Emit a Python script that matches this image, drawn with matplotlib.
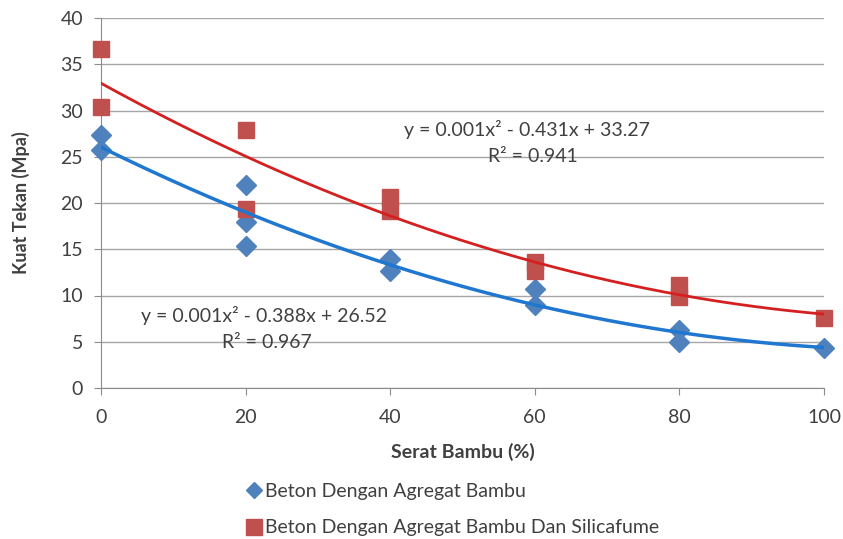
import numpy as np
import matplotlib
matplotlib.use("Agg")
import matplotlib.pyplot as plt
from matplotlib.lines import Line2D

# data
x_bambu = [0, 0, 20, 20, 20, 40, 40, 60, 60, 80, 80, 100]
y_bambu = [27.3, 25.7, 21.9, 17.9, 15.4, 14.0, 12.6, 10.7, 9.0, 6.3, 5.0, 4.3]
x_silica = [0, 0, 20, 20, 40, 40, 60, 60, 80, 80, 100]
y_silica = [36.6, 30.4, 27.9, 19.3, 20.6, 19.1, 13.6, 12.6, 11.1, 9.8, 7.6]

eq_bambu = "y = 0.001x\u00b2 - 0.388x + 26.52"
r2_bambu = "R\u00b2 = 0.967"
eq_silica = "y = 0.001x\u00b2 - 0.431x + 33.27"
r2_silica = "R\u00b2 = 0.941"

BLUE_MK = "#4F81BD"
RED_MK = "#C0504D"
BLUE_LN = "#1F77D0"
RED_LN = "#D42020"
TXT = "#404040"

plt.rcParams["font.family"] = ["Lato", "DejaVu Sans"]

fig = plt.figure(figsize=(8.43, 5.39), dpi=100)
ax = fig.add_axes([101 / 843, 1 - 388 / 539, 723 / 843, 370 / 539])

xs = np.linspace(0, 100, 200)
cb = np.polyfit(x_bambu, y_bambu, 2)
cs = np.polyfit(x_silica, y_silica, 2)

ax.plot(x_bambu, y_bambu, "D", color=BLUE_MK, markersize=10, zorder=3, clip_on=False)
ax.plot(x_silica, y_silica, "s", color=RED_MK, markersize=12, zorder=3, clip_on=False)
ax.plot(xs, np.polyval(cb, xs), color=BLUE_LN, linewidth=2.5, zorder=4)
ax.plot(xs, np.polyval(cs, xs), color=RED_LN, linewidth=2, zorder=4)

ax.set_xlim(0, 100)
ax.set_ylim(0, 40)
ax.set_xticks(range(0, 101, 20))
ax.set_yticks(range(0, 41, 5))
ax.grid(axis="y", color="#A6A6A6", linewidth=1)
ax.set_axisbelow(True)
for s in ["top", "right"]:
    ax.spines[s].set_visible(False)
for s in ["left", "bottom"]:
    ax.spines[s].set_color("#8C8C8C")
ax.tick_params(colors="#8C8C8C", labelcolor=TXT, labelsize=14, length=5)
ax.tick_params(axis="x", pad=10)
ax.tick_params(axis="y", pad=8)

ax.set_xlabel("Serat Bambu (%)", fontsize=14, fontweight="bold", color=TXT, labelpad=12)
ax.set_ylabel("Kuat Tekan (Mpa)", fontsize=13, fontweight="bold", color=TXT, labelpad=22)

ax.text(58.9, 27.9, eq_silica, ha="center", va="center", fontsize=14, color=TXT)
ax.text(59.8, 25.0, r2_silica, ha="center", va="center", fontsize=14, color=TXT)
ax.text(22.5, 7.8, eq_bambu, ha="center", va="center", fontsize=14, color=TXT)
ax.text(23, 4.9, r2_bambu, ha="center", va="center", fontsize=14, color=TXT)

handles = [
    Line2D([], [], marker="D", linestyle="", color=BLUE_MK, markersize=8),
    Line2D([], [], marker="s", linestyle="", color=RED_MK, markersize=11),
]
fig.legend(handles, ["Beton Dengan Agregat Bambu", "Beton Dengan Agregat Bambu Dan Silicafume"],
           loc="upper left", bbox_to_anchor=(244 / 843, 1 - 483 / 539), frameon=False,
           fontsize=14, labelcolor=TXT, handletextpad=0.1, handlelength=1.0,
           labelspacing=1.0, borderaxespad=0, borderpad=0)

fig.savefig("out.png", dpi=100)
